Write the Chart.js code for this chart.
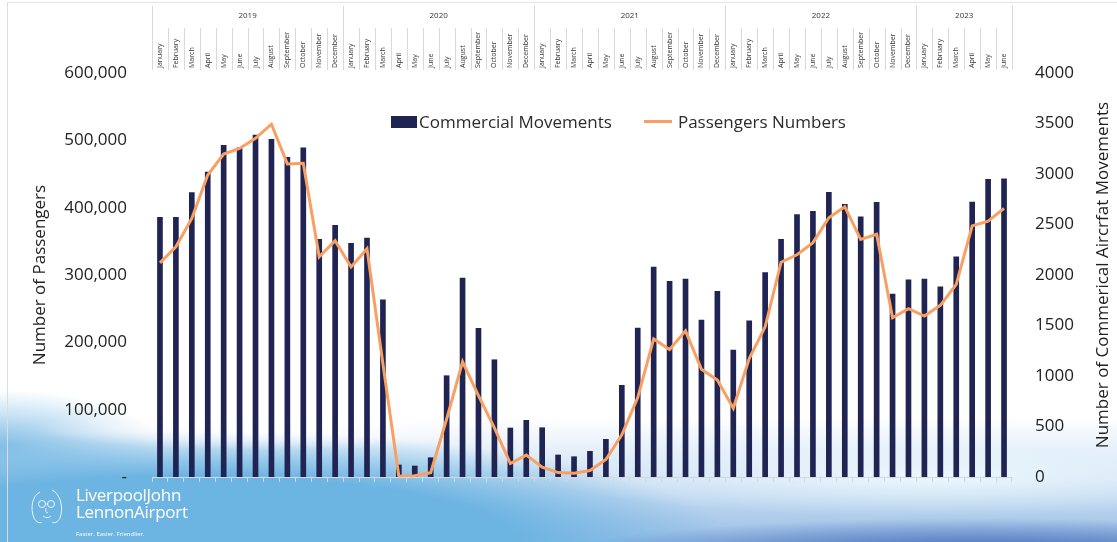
<!DOCTYPE html>
<html lang="en">
<head>
    <meta charset="UTF-8">
    <title>Liverpool John Lennon Airport - Passengers and Movements</title>
    <script src="https://cdn.jsdelivr.net/npm/chart.js"></script>
    <style>
        html, body {
            margin: 0;
            padding: 0;
            background: #fff;
        }

        .slide {
            position: relative;
            width: 1117px;
            height: 542px;
            overflow: hidden;
            font-family: 'Open Sans', sans-serif;
            background:
                radial-gradient(ellipse 240px 22px at 270px 428px, rgba(255,255,255,0.95) 0%, rgba(255,255,255,0) 100%),
                radial-gradient(ellipse 380px 40px at 930px 476px, rgba(236,248,253,0.95) 0%, rgba(236,248,253,0) 100%),
                radial-gradient(ellipse 420px 38px at 980px 556px, #5278c0 25%, rgba(82,120,192,0) 100%),
                radial-gradient(ellipse 540px 115px at 190px 545px, #6cb4e2 60%, rgba(108,180,226,0) 100%),
                radial-gradient(ellipse 160px 55px at 0px 445px, #86c0e7 0%, rgba(134,192,231,0) 100%),
                linear-gradient(to bottom, #ffffff 0%, #ffffff 77%, #d3e5f5 87%, #9cbfe5 100%);
        }

        .frame {
            position: absolute;
            left: 7px;
            top: 2px;
            right: 0;
            bottom: 0;
            border-left: 1px solid #dcdcdc;
            border-top: 1px solid #e4e4e4;
            pointer-events: none;
        }

        canvas {
            position: absolute;
            left: 0;
            top: 0;
        }

        .legend {
            position: absolute;
            top: 110px;
            left: 391px;
            display: flex;
            align-items: center;
            font-size: 17px;
            color: #2b2b2b;
            white-space: nowrap;
        }

        .legend .box {
            width: 26px;
            height: 12px;
            background: #1f2452;
            margin-right: 2px;
        }

        .legend .line {
            width: 28px;
            height: 3px;
            background: #f8a063;
            margin-left: 32px;
            margin-right: 6px;
        }

        .logo {
            position: absolute;
            left: 26px;
            top: 486px;
            color: #fff;
            display: flex;
        }

        .logo .name {
            margin-left: 8px;
            font-size: 17px;
            line-height: 17px;
            letter-spacing: -0.3px;
        }

        .logo .tag {
            font-size: 6px;
            margin-top: 6px;
            letter-spacing: 0;
        }
    </style>
</head>
<body>
    <div class="slide">
        <canvas id="airportChart" width="1117" height="542"></canvas>
        <div class="frame"></div>

        <div class="legend">
            <span class="box"></span><span>Commercial Movements</span>
            <span class="line"></span><span>Passengers Numbers</span>
        </div>

        <div class="logo">
            <svg width="42" height="40" viewBox="0 0 42 40">
                <g fill="none" stroke="#fff" stroke-width="1" opacity="0.85">
                    <path d="M14 6 C6 10 4 22 8 32 C10 36 14 38 16 36"/>
                    <path d="M26 4 C34 8 38 20 34 32 C32 36 28 38 26 36"/>
                    <circle cx="16" cy="18" r="3.5"/>
                    <circle cx="25" cy="18" r="3.5"/>
                    <path d="M19.5 18 L21.5 18"/>
                    <path d="M20 22 C19 26 21 28 22 26"/>
                    <path d="M17 30 C19 32 23 32 25 30"/>
                </g>
            </svg>
            <div class="name">
                LiverpoolJohn<br>LennonAirport
                <div class="tag">Faster. Easier. Friendlier.</div>
            </div>
        </div>
    </div>

    <script>
        // Categories
        const monthNames = ['January', 'February', 'March', 'April', 'May', 'June',
                            'July', 'August', 'September', 'October', 'November', 'December'];
        const years = ['2019', '2020', '2021', '2022', '2023'];
        const monthsPerYear = [12, 12, 12, 12, 6];

        // Commercial aircraft movements (right axis)
        const movements = [
            2571, 2571, 2815, 3020, 3284, 3260, 3386, 3343, 3165, 3260, 2353, 2492,
            2314, 2366, 1755, 119, 109, 191, 1003, 1970, 1472, 1161, 485, 561,
            488, 218, 201, 254, 373, 908, 1475, 2079, 1937, 1960, 1554, 1838,
            1257, 1547, 2023, 2353, 2597, 2630, 2818, 2700, 2577, 2720, 1812, 1953,
            1960, 1884, 2181, 2723, 2947, 2953
        ];

        // Passenger numbers (left axis)
        const passengers = [
            318000, 342000, 384000, 448500, 479500, 488000, 503000, 524000, 465000, 466000, 327000, 351000,
            312000, 339000, 168000, 1000, 2000, 6500, 86000, 171000, 121000, 73000, 20000, 32500,
            14500, 6500, 5500, 9500, 26000, 62500, 118000, 205000, 189500, 217000, 160000, 144000,
            102000, 176000, 223000, 319000, 330000, 348000, 385000, 401500, 353000, 360500, 236500, 250000,
            239000, 255000, 286000, 373000, 380000, 399000
        ];

        // Axis ticks
        const passengerTicks = { min: 0, max: 600000, step: 100000 };
        const movementTicks = { min: 0, max: 4000, step: 500 };
        const rightTitle = 'Number of Commerical Aircrfat Movements';

        // Build month labels and year groups
        const labels = [];
        const yearGroups = [];
        years.forEach((year, i) => {
            const start = labels.length;
            for (let m = 0; m < monthsPerYear[i]; m++) {
                labels.push(monthNames[m]);
            }
            yearGroups.push({ year: year, start: start, end: labels.length - 1 });
        });

        const fontFamily = "'Open Sans', sans-serif";
        Chart.defaults.font.family = fontFamily;
        Chart.defaults.color = '#222';

        // Draws the two header rows (years, months) and the right axis title
        const headerPlugin = {
            id: 'header',
            afterDraw(chart) {
                const ctx = chart.ctx;
                const x = chart.scales.x;
                const area = chart.chartArea;
                const half = (x.getPixelForValue(1) - x.getPixelForValue(0)) / 2;

                ctx.save();
                ctx.strokeStyle = '#d9d9d9';
                ctx.lineWidth = 1;

                // month separators
                for (let i = 1; i < labels.length; i++) {
                    const px = Math.round(x.getPixelForValue(i) - half) + 0.5;
                    ctx.beginPath();
                    ctx.moveTo(px, 28);
                    ctx.lineTo(px, 70);
                    ctx.stroke();
                }

                // month labels, rotated, starting near the bottom of the header
                ctx.fillStyle = '#333';
                ctx.font = '7px ' + fontFamily;
                ctx.textAlign = 'left';
                ctx.textBaseline = 'middle';
                labels.forEach((lab, i) => {
                    ctx.save();
                    ctx.translate(x.getPixelForValue(i), 68);
                    ctx.rotate(-Math.PI / 2);
                    ctx.fillText(lab, 0, 0);
                    ctx.restore();
                });

                // year separators and year labels
                ctx.font = '8px ' + fontFamily;
                ctx.textAlign = 'center';
                yearGroups.forEach(g => {
                    const left = x.getPixelForValue(g.start) - half;
                    const right = x.getPixelForValue(g.end) + half;
                    [left, right].forEach(px => {
                        ctx.beginPath();
                        ctx.moveTo(Math.round(px) + 0.5, 6);
                        ctx.lineTo(Math.round(px) + 0.5, 70);
                        ctx.stroke();
                    });
                    ctx.fillText(g.year, (left + right) / 2, 16);
                });

                // right axis title, reading bottom to top
                ctx.translate(1103, (area.top + area.bottom) / 2);
                ctx.rotate(-Math.PI / 2);
                ctx.fillStyle = '#222';
                ctx.font = '17px ' + fontFamily;
                ctx.fillText(rightTitle, 0, 0);
                ctx.restore();
            }
        };

        const ctx = document.getElementById('airportChart').getContext('2d');

        new Chart(ctx, {
            type: 'bar',
            data: {
                labels: labels,
                datasets: [
                    {
                        type: 'line',
                        label: 'Passengers Numbers',
                        data: passengers,
                        yAxisID: 'y',
                        xAxisID: 'x',
                        borderColor: '#f8a063',
                        backgroundColor: '#f8a063',
                        borderWidth: 3,
                        pointRadius: 0,
                        tension: 0,
                        order: 0
                    },
                    {
                        type: 'bar',
                        label: 'Commercial Movements',
                        data: movements,
                        yAxisID: 'y1',
                        xAxisID: 'x',
                        backgroundColor: '#1f2452',
                        barThickness: 5,
                        order: 1
                    }
                ]
            },
            options: {
                responsive: false,
                animation: false,
                layout: { padding: 0 },
                plugins: {
                    legend: { display: false },
                    tooltip: { enabled: false }
                },
                scales: {
                    x: {
                        type: 'category',
                        position: 'top',
                        offset: true,
                        grid: { display: false, drawTicks: false },
                        border: { display: false },
                        ticks: { display: false },
                        afterFit(scale) { scale.height = 73; }
                    },
                    xb: {
                        type: 'category',
                        position: 'bottom',
                        offset: true,
                        grid: {
                            display: true,
                            offset: true,
                            drawOnChartArea: false,
                            drawTicks: true,
                            tickLength: 5,
                            color: '#d4d8de'
                        },
                        border: { display: true, color: '#d4d8de' },
                        ticks: { display: false },
                        afterFit(scale) { scale.height = 65; }
                    },
                    y: {
                        position: 'left',
                        min: passengerTicks.min,
                        max: passengerTicks.max,
                        grid: { display: false, drawTicks: false },
                        border: { display: false },
                        ticks: {
                            stepSize: passengerTicks.step,
                            padding: 25,
                            font: { size: 17 },
                            callback: function(value) {
                                return value === 0 ? '-' : value.toLocaleString('en-US');
                            }
                        },
                        title: {
                            display: true,
                            text: 'Number of Passengers',
                            font: { size: 17 },
                            padding: { top: 30, bottom: 0 }
                        },
                        afterFit(scale) { scale.width = 152; }
                    },
                    y1: {
                        position: 'right',
                        min: movementTicks.min,
                        max: movementTicks.max,
                        grid: { display: false, drawTicks: false },
                        border: { display: false },
                        ticks: {
                            stepSize: movementTicks.step,
                            padding: 23,
                            font: { size: 17 },
                            callback: function(value) {
                                return String(value);
                            }
                        },
                        afterFit(scale) { scale.width = 105; }
                    }
                }
            },
            plugins: [headerPlugin]
        });
    </script>
</body>
</html>
